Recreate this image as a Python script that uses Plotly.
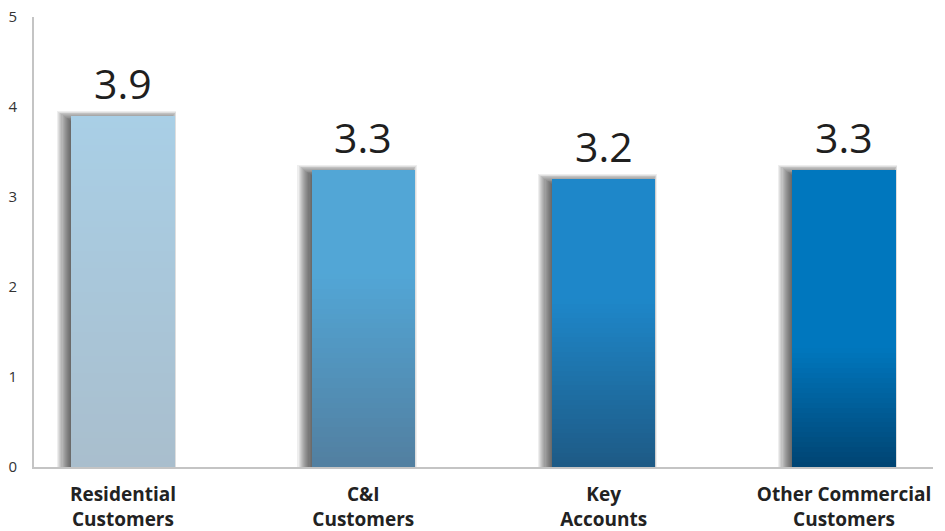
import plotly.graph_objects as go

# Satisfaction scores by customer segment
categories = ["Residential<br>Customers", "C&I<br>Customers", "Key<br>Accounts",
              "Other Commercial<br>Customers"]
scores = [3.9, 3.3, 3.2, 3.3]
score_labels = ["3.9", "3.3", "3.2", "3.3"]
y_ticks = [0, 1, 2, 3, 4, 5]

# Gradient styling per bar: top colour, bottom colour, fraction of the bar
# (from the top) that keeps the top colour before fading
top_colors = [(169, 207, 230), (82, 166, 214), (30, 135, 201), (0, 119, 190)]
bottom_colors = [(169, 190, 205), (82, 127, 160), (30, 90, 133), (0, 68, 114)]
flat_fraction = [0.0, 0.35, 0.42, 0.6]

N_SLICES = 60
BAR_W = 0.43
PX_X = 1 / 240.0   # one pixel in category units
PX_Y = 1 / 90.0    # one pixel in value units

x_idx = list(range(len(categories)))


def mix(c1, c2, t):
    return "rgb(%d,%d,%d)" % tuple(round(a + (b - a) * t) for a, b in zip(c1, c2))


fig = go.Figure()

# soft drop shadow, strongest on the left edge, lighter along the top
N_SHADOW = 13
for k in range(N_SHADOW):
    left_px = 1 + 1.1 * k          # reach beyond the bar's left edge
    right_px = -5 + 0.55 * k       # reach beyond the bar's right edge
    top_px = -5 + 0.85 * k         # reach above the bar's top
    fig.add_trace(go.Bar(
        x=x_idx,
        y=[v + top_px * PX_Y for v in scores],
        base=0,
        width=BAR_W + (left_px + right_px) * PX_X,
        offset=-(BAR_W / 2) - left_px * PX_X,
        marker=dict(color="rgba(30,30,30,0.075)", line=dict(width=0)),
        hoverinfo="skip", showlegend=False,
    ))

# gradient bars built from stacked horizontal slices
for i in range(N_SLICES):
    colors = []
    for j in range(len(scores)):
        pos_from_top = 1 - (i + 0.5) / N_SLICES
        f = flat_fraction[j]
        t = 0.0 if pos_from_top <= f else (pos_from_top - f) / (1 - f)
        colors.append(mix(top_colors[j], bottom_colors[j], t))
    fig.add_trace(go.Bar(
        x=x_idx,
        y=[v / N_SLICES * 1.002 for v in scores],
        base=[v * i / N_SLICES for v in scores],
        width=BAR_W,
        marker=dict(color=colors, line=dict(width=0)),
        hoverinfo="skip", showlegend=False,
    ))

# value labels above each bar
for xi, v, lab in zip(x_idx, scores, score_labels):
    fig.add_annotation(
        x=xi, y=v, text=lab, showarrow=False, yanchor="bottom",
        yshift=3, font=dict(family="Open Sans", size=41, color="#1f1f1f", weight=500),
    )

fig.update_layout(
    width=945, height=531,
    margin=dict(l=34, r=12, t=17, b=64),
    paper_bgcolor="white", plot_bgcolor="white",
    barmode="overlay", bargap=0,
    showlegend=False,
    xaxis=dict(
        range=[-0.37, 3.37], automargin=False,
        tickmode="array", tickvals=x_idx, ticktext=categories,
        showgrid=False, zeroline=False,
        showline=True, linecolor="#c4c4c4", linewidth=2,
        ticks="", ticklabelstandoff=9,
        tickfont=dict(family="Open Sans", size=19, color="#222222", weight=700),
    ),
    yaxis=dict(
        range=[0, 5], automargin=False,
        tickmode="array", tickvals=y_ticks,
        showgrid=False, zeroline=False,
        showline=True, linecolor="#c4c4c4", linewidth=2,
        ticks="", ticklabelstandoff=12,
        tickfont=dict(family="Open Sans", size=15, color="#333333"),
    ),
)

fig.write_html("out.html")
